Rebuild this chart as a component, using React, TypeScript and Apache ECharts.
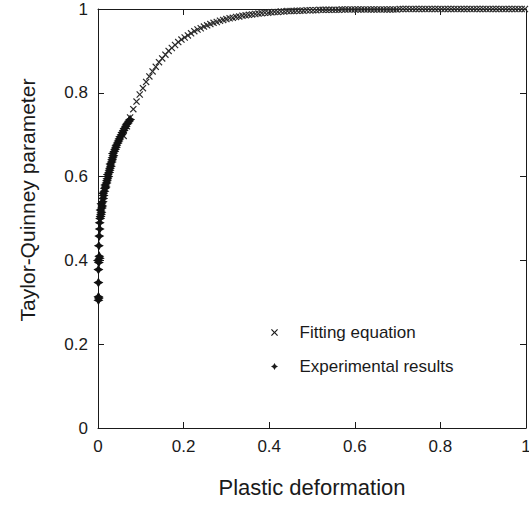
import React, { useEffect, useRef } from "react";
import * as echarts from "echarts";

const xTicks = [0, 0.2, 0.4, 0.6, 0.8, 1];
const yTicks = [0, 0.2, 0.4, 0.6, 0.8, 1];
const xTickLabels = ["0", "0.2", "0.4", "0.6", "0.8", "1"];
const yTickLabels = ["0", "0.2", "0.4", "0.6", "0.8", "1"];

const xTitle = "Plastic deformation";
const yTitle = "Taylor-Quinney parameter";
const seriesNames = ["Fitting equation", "Experimental results"];

// Fitting equation markers (x, y)
const fittingPoints: [number, number][] = [
  [0.06, 0.697], [0.0675, 0.72], [0.075, 0.741], [0.0825, 0.761], [0.09, 0.779], [0.0975, 0.796],
  [0.105, 0.811], [0.1125, 0.826], [0.12, 0.839], [0.1275, 0.851], [0.135, 0.862], [0.1425, 0.873],
  [0.15, 0.882], [0.1575, 0.891], [0.165, 0.9], [0.1725, 0.907], [0.18, 0.914], [0.1875, 0.921],
  [0.195, 0.927], [0.2025, 0.932], [0.21, 0.937], [0.2175, 0.942], [0.225, 0.947], [0.2325, 0.951],
  [0.24, 0.954], [0.2475, 0.958], [0.255, 0.961], [0.2625, 0.964], [0.27, 0.967], [0.2775, 0.969],
  [0.285, 0.972], [0.2925, 0.974], [0.3, 0.976], [0.3075, 0.978], [0.315, 0.979], [0.3225, 0.981],
  [0.33, 0.982], [0.3375, 0.984], [0.345, 0.985], [0.3525, 0.986], [0.36, 0.987], [0.3675, 0.988],
  [0.375, 0.989], [0.3825, 0.99], [0.39, 0.991], [0.3975, 0.991], [0.405, 0.992], [0.4125, 0.993],
  [0.42, 0.993], [0.4275, 0.994], [0.435, 0.994], [0.4425, 0.995], [0.45, 0.995], [0.4575, 0.995],
  [0.465, 0.996], [0.4725, 0.996], [0.48, 0.996], [0.4875, 0.997], [0.495, 0.997], [0.5025, 0.997],
  [0.51, 0.997], [0.5175, 0.998], [0.525, 0.998], [0.5325, 0.998], [0.54, 0.998], [0.5475, 0.998],
  [0.555, 0.998], [0.5625, 0.998], [0.57, 0.999], [0.5775, 0.999], [0.585, 0.999], [0.5925, 0.999],
  [0.6, 0.999], [0.6075, 0.999], [0.615, 0.999], [0.6225, 0.999], [0.63, 0.999], [0.6375, 0.999],
  [0.645, 0.999], [0.6525, 0.999], [0.66, 0.999], [0.6675, 0.999], [0.675, 0.999], [0.6825, 0.999],
  [0.69, 0.999], [0.6975, 0.999], [0.705, 1], [0.7125, 1], [0.72, 1], [0.7275, 1], [0.735, 1],
  [0.7425, 1], [0.75, 1], [0.7575, 1], [0.765, 1], [0.7725, 1], [0.78, 1], [0.7875, 1], [0.795, 1],
  [0.8025, 1], [0.81, 1], [0.8175, 1], [0.825, 1], [0.8325, 1], [0.84, 1], [0.8475, 1], [0.855, 1],
  [0.8625, 1], [0.87, 1], [0.8775, 1], [0.885, 1], [0.8925, 1], [0.9, 1], [0.9075, 1], [0.915, 1],
  [0.9225, 1], [0.93, 1], [0.9375, 1], [0.945, 1], [0.9525, 1], [0.96, 1], [0.9675, 1], [0.975, 1],
  [0.9825, 1], [0.99, 1], [0.9975, 1],
];

const experimentalPoints: [number, number][] = [
  [0.001, 0.305], [0.001, 0.313], [0.002, 0.31], [0.001, 0.347], [0.001, 0.378], [0.002, 0.395],
  [0.0, 0.4], [0.004, 0.405], [0.003, 0.41], [0.002, 0.435], [0.003, 0.458], [0.004, 0.475],
  [0.004, 0.49], [0.005, 0.5], [0.006, 0.505], [0.007, 0.51], [0.008, 0.515], [0.006, 0.52],
  [0.009, 0.525], [0.01, 0.53], [0.008, 0.535], [0.011, 0.54], [0.012, 0.548], [0.013, 0.555],
  [0.012, 0.56], [0.015, 0.565], [0.016, 0.572], [0.018, 0.575], [0.017, 0.58], [0.02, 0.585],
  [0.021, 0.59], [0.022, 0.595], [0.024, 0.6], [0.023, 0.605], [0.026, 0.61], [0.027, 0.615],
  [0.028, 0.62], [0.03, 0.625], [0.029, 0.63], [0.032, 0.635], [0.033, 0.64], [0.034, 0.645],
  [0.036, 0.65], [0.035, 0.655], [0.038, 0.66], [0.04, 0.665], [0.042, 0.67], [0.043, 0.675],
  [0.046, 0.68], [0.048, 0.685], [0.05, 0.69], [0.052, 0.695], [0.055, 0.7], [0.057, 0.705],
  [0.06, 0.71], [0.062, 0.715], [0.065, 0.72], [0.067, 0.725], [0.07, 0.728], [0.072, 0.732],
  [0.075, 0.736],
];

const FONT = "'Liberation Sans', Arial, Helvetica, sans-serif";
const INK = "#1a1a1a";

const CROSS =
  "path://M0,1.2 L1.2,0 L5,3.8 L8.8,0 L10,1.2 L6.2,5 L10,8.8 L8.8,10 L5,6.2 L1.2,10 L0,8.8 L3.8,5 Z";
const STAR =
  "path://M5,0 L6.8,3.2 L10,5 L6.8,6.8 L5,10 L3.2,6.8 L0,5 L3.2,3.2 Z";

export default function App() {
  const ref = useRef<HTMLDivElement>(null);

  useEffect(() => {
    if (!ref.current) return;
    const chart = echarts.init(ref.current, undefined, { renderer: "svg" });

    const axisCommon = {
      type: "value" as const,
      min: 0,
      max: 1,
      interval: 0.2,
      splitLine: { show: false },
      axisLine: { show: true, onZero: false, lineStyle: { color: INK, width: 1 } },
      axisTick: { show: true, inside: true, length: 6, lineStyle: { color: INK, width: 1 } },
    };

    chart.setOption({
      animation: false,
      backgroundColor: "#ffffff",
      grid: {
        left: 98,
        right: 3,
        top: 9,
        bottom: 78,
        containLabel: false,
        outerBoundsMode: "none",
      },
      xAxis: [
        {
          ...axisCommon,
          position: "bottom",
          name: xTitle,
          nameLocation: "middle",
          nameGap: 48,
          nameTextStyle: { fontFamily: FONT, fontSize: 22, color: INK },
          axisLabel: {
            show: true,
            margin: 10,
            fontFamily: FONT,
            fontSize: 17,
            color: INK,
            formatter: (v: number) => {
              const i = xTicks.findIndex((t) => Math.abs(t - v) < 1e-9);
              return i >= 0 ? xTickLabels[i] : "";
            },
          },
        },
        {
          ...axisCommon,
          position: "top",
          axisLabel: { show: false },
        },
      ],
      yAxis: [
        {
          ...axisCommon,
          position: "left",
          axisLabel: {
            show: true,
            margin: 10,
            fontFamily: FONT,
            fontSize: 17,
            color: INK,
            formatter: (v: number) => {
              const i = yTicks.findIndex((t) => Math.abs(t - v) < 1e-9);
              return i >= 0 ? yTickLabels[i] : "";
            },
          },
        },
        {
          ...axisCommon,
          position: "right",
          axisLabel: { show: false },
        },
      ],
      legend: {
        orient: "vertical",
        left: 266,
        top: 319,
        itemWidth: 40,
        itemHeight: 7,
        itemGap: 17,
        symbolKeepAspect: true,
        textStyle: { fontFamily: FONT, fontSize: 17, color: INK, lineHeight: 17 },
        data: [
          { name: seriesNames[0], icon: CROSS, itemStyle: { color: INK } },
          { name: seriesNames[1], icon: STAR, itemStyle: { color: INK } },
        ],
      },
      graphic: [
        {
          type: "text",
          x: 27,
          y: 200,
          rotation: Math.PI / 2,
          style: {
            text: yTitle,
            fontFamily: FONT,
            fontSize: 21,
            fill: INK,
            textAlign: "center",
            textVerticalAlign: "middle",
          },
        },
      ],
      series: [
        {
          name: seriesNames[0],
          type: "scatter",
          xAxisIndex: 0,
          yAxisIndex: 0,
          data: fittingPoints,
          symbol: CROSS,
          symbolSize: 7,
          clip: false,
          itemStyle: { color: "#2a2a2a", opacity: 1 },
          emphasis: { disabled: true },
        },
        {
          name: seriesNames[1],
          type: "scatter",
          xAxisIndex: 0,
          yAxisIndex: 0,
          data: experimentalPoints,
          symbol: STAR,
          symbolSize: 10,
          clip: false,
          itemStyle: { color: "#111111", opacity: 1 },
          emphasis: { disabled: true },
        },
      ],
    });

    return () => {
      chart.dispose();
    };
  }, []);

  return (
    <div
      ref={ref}
      style={{ position: "fixed", left: 0, top: 0, width: 529, height: 506, background: "#fff" }}
    />
  );
}
